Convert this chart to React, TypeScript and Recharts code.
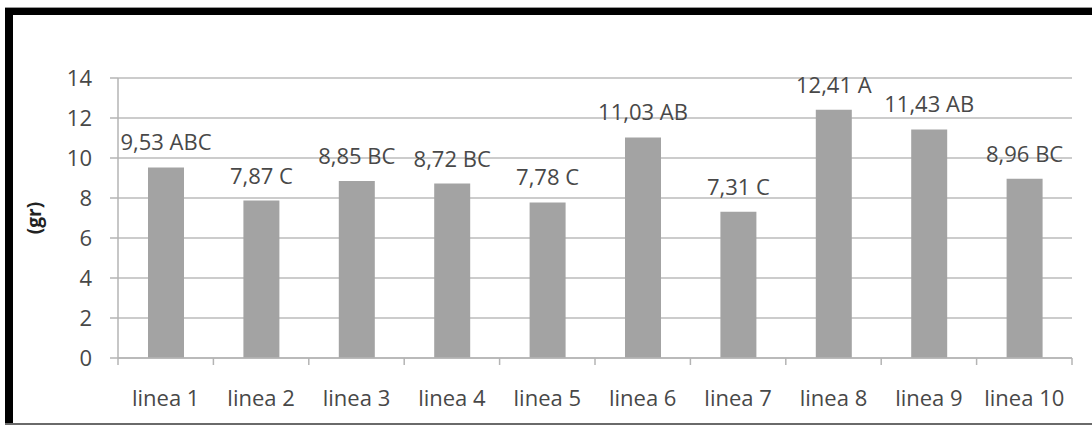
import { BarChart, Bar, XAxis, YAxis, CartesianGrid, LabelList } from 'recharts';

const lineas = ['linea 1', 'linea 2', 'linea 3', 'linea 4', 'linea 5', 'linea 6', 'linea 7', 'linea 8', 'linea 9', 'linea 10'];
const pesos = [9.53, 7.87, 8.85, 8.72, 7.78, 11.03, 7.31, 12.41, 11.43, 8.96];
const grupos = ['ABC', 'C', 'BC', 'BC', 'C', 'AB', 'C', 'A', 'AB', 'BC'];
const yTicks = [0, 2, 4, 6, 8, 10, 12, 14];

const data = lineas.map((linea, i) => ({
  linea,
  peso: pesos[i],
  etiqueta: `${pesos[i].toFixed(2).replace('.', ',')} ${grupos[i]}`,
}));

const W = 1092;
const H = 426;
const margin = { top: 78, right: 20, bottom: 38, left: 58 };
const yAxisWidth = 60;
const plotWidth = W - margin.left - margin.right - yAxisWidth;
const step = plotWidth / lineas.length;

const textColor = '#484848';
const axisColor = '#b4b4b4';
const font = "'Open Sans', sans-serif";

// ticks entre categorias, como en Excel
function XTick(props: any) {
  const { x, y, payload, index } = props;
  const yAxisLine = y - 6;
  return (
    <g>
      <line x1={x - step / 2} y1={yAxisLine} x2={x - step / 2} y2={yAxisLine + 7} stroke={axisColor} strokeWidth={1.5} />
      {index === lineas.length - 1 && (
        <line x1={x + step / 2} y1={yAxisLine} x2={x + step / 2} y2={yAxisLine + 7} stroke={axisColor} strokeWidth={1.5} />
      )}
      <text x={x} y={y + 42} textAnchor="middle" fill={textColor} fontSize={22} fontFamily={font}>
        {payload.value}
      </text>
    </g>
  );
}

function BarLabel(props: any) {
  const { x, y, width, value } = props;
  return (
    <text x={x + width / 2} y={y - 17} textAnchor="middle" fill={textColor} fontSize={22} fontFamily={font}>
      {value}
    </text>
  );
}

export default function App() {
  return (
    <div style={{ position: 'absolute', left: 0, top: 0, width: W, height: H, background: 'white', overflow: 'hidden' }}>
      {/* marco */}
      <div style={{ position: 'absolute', left: 5, top: 7, width: W - 5, height: 1, background: '#999' }} />
      <div style={{ position: 'absolute', left: 5, top: 8, width: W - 5, height: 7, background: '#000' }} />
      <div style={{ position: 'absolute', left: 5, top: 8, width: 8, height: 416, background: '#000' }} />
      <div style={{ position: 'absolute', left: 5, top: 423, width: W - 5, height: 2, background: '#6a6a6a' }} />

      <div style={{ position: 'absolute', left: 0, top: 0 }}>
        <BarChart width={W} height={H} data={data} margin={margin}>
          <CartesianGrid vertical={false} stroke="#cccccc" strokeWidth={2} />
          <XAxis
            dataKey="linea"
            height={30}
            axisLine={{ stroke: axisColor, strokeWidth: 1.5 }}
            tickLine={false}
            tickSize={6}
            tickMargin={0}
            interval={0}
            tick={<XTick />}
          />
          <YAxis
            width={yAxisWidth}
            domain={[0, 14]}
            ticks={yTicks}
            interval={0}
            axisLine={{ stroke: axisColor, strokeWidth: 1.5 }}
            tickLine={{ stroke: axisColor, strokeWidth: 1.5 }}
            tickSize={8}
            tickMargin={18}
            tick={{ fill: textColor, fontSize: 22, fontFamily: font }}
            label={{
              value: '(gr)',
              angle: -90,
              position: 'insideLeft',
              offset: 0,
              dx: -24,
              style: { fill: '#222', fontSize: 19, fontWeight: 700, fontFamily: font, textAnchor: 'middle' },
            }}
          />
          <Bar dataKey="peso" fill="#a3a3a3" barSize={36} isAnimationActive={false}>
            <LabelList dataKey="etiqueta" content={<BarLabel />} />
          </Bar>
        </BarChart>
      </div>
    </div>
  );
}
